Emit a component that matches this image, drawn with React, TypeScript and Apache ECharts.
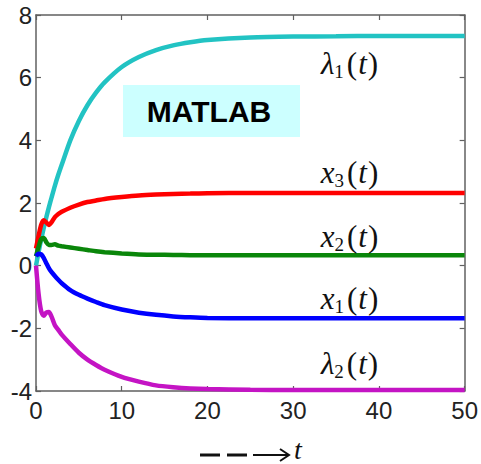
import React, { useEffect, useRef } from "react";
import * as echarts from "echarts";

const T = [0, 0.3, 0.6, 0.9, 1.2, 1.5, 1.8, 2.2, 2.6, 3, 4, 5, 6, 7, 8, 10, 12, 14, 16, 18, 20, 25, 30, 35, 40, 45, 50];
const lambda1 = [0, 0.43, 0.83, 1.2, 1.54, 1.86, 2.16, 2.55, 2.9, 3.22, 4.0, 4.62, 5.12, 5.52, 5.85, 6.34, 6.66, 6.88, 7.03, 7.13, 7.2, 7.28, 7.31, 7.32, 7.33, 7.33, 7.33];
const x3 = [0.55, 0.95, 1.3, 1.45, 1.38, 1.3, 1.38, 1.55, 1.65, 1.72, 1.85, 1.95, 2.03, 2.08, 2.13, 2.19, 2.24, 2.27, 2.29, 2.3, 2.31, 2.32, 2.32, 2.32, 2.32, 2.32, 2.32];
const x2 = [0.3, 0.6, 0.85, 0.88, 0.75, 0.66, 0.66, 0.68, 0.64, 0.62, 0.58, 0.54, 0.5, 0.46, 0.43, 0.39, 0.36, 0.35, 0.34, 0.335, 0.33, 0.33, 0.33, 0.33, 0.33, 0.33, 0.33];
const x1 = [0.3, 0.38, 0.36, 0.25, 0.08, -0.08, -0.2, -0.33, -0.45, -0.56, -0.78, -0.93, -1.05, -1.16, -1.26, -1.4, -1.5, -1.57, -1.62, -1.65, -1.67, -1.68, -1.68, -1.68, -1.68, -1.68, -1.68];
const lambda2 = [0, -0.9, -1.45, -1.6, -1.5, -1.48, -1.62, -1.9, -2.05, -2.2, -2.5, -2.78, -3.0, -3.17, -3.32, -3.55, -3.7, -3.82, -3.88, -3.92, -3.94, -3.96, -3.97, -3.97, -3.97, -3.97, -3.97];

const SERIES = [
  { name: "λ1(t)", data: lambda1, color: "#22c3c3", main: "λ", sub: "1", labelY: 63 },
  { name: "x3(t)", data: x3, color: "#ff0000", main: "x", sub: "3", labelY: 172 },
  { name: "x2(t)", data: x2, color: "#0a860a", main: "x", sub: "2", labelY: 236 },
  { name: "x1(t)", data: x1, color: "#0000ff", main: "x", sub: "1", labelY: 298 },
  { name: "λ2(t)", data: lambda2, color: "#c414c4", main: "λ", sub: "2", labelY: 363 },
];

const X_MIN = 0, X_MAX = 50, X_STEP = 10;
const Y_MIN = -4, Y_MAX = 8, Y_STEP = 2;

export default function App() {
  const ref = useRef<HTMLDivElement>(null);
  useEffect(() => {
    if (!ref.current) return;
    const chart = echarts.init(ref.current, null, { renderer: "svg" });
    const axisLine = { show: true, onZero: false, lineStyle: { color: "#606060", width: 1.5 } };
    const tick = { show: true, inside: true, length: 5, lineStyle: { color: "#606060", width: 1.2 } };
    const lbl = { color: "#222", fontSize: 24, fontFamily: "Liberation Sans, Arial, sans-serif" };
    const serif = "Liberation Serif, Times New Roman, serif";
    const rich = {
      i: { fontFamily: serif, fontStyle: "italic", fontSize: 31, lineHeight: 36, fill: "#111" },
      r: { fontFamily: serif, fontSize: 31, lineHeight: 36, fill: "#111", padding: [0, 1, 0, 1] },
      s: { fontFamily: serif, fontSize: 19, lineHeight: 17, verticalAlign: "bottom", fill: "#111", padding: [0, 2, 0, 0] },
    };
    chart.setOption({
      animation: false,
      backgroundColor: "#ffffff",
      grid: { left: 36, right: 13, top: 15, bottom: 73, containLabel: false },
      xAxis: [
        { type: "value", min: X_MIN, max: X_MAX, interval: X_STEP, position: "bottom", axisLine, axisTick: tick, splitLine: { show: false }, axisLabel: { ...lbl, margin: 7 } },
        { type: "value", min: X_MIN, max: X_MAX, interval: X_STEP, position: "top", axisLine, axisTick: tick, splitLine: { show: false }, axisLabel: { show: false } },
      ],
      yAxis: [
        { type: "value", min: Y_MIN, max: Y_MAX, interval: Y_STEP, position: "left", axisLine, axisTick: tick, splitLine: { show: false }, axisLabel: { ...lbl, margin: 4 } },
        { type: "value", min: Y_MIN, max: Y_MAX, interval: Y_STEP, position: "right", axisLine, axisTick: tick, splitLine: { show: false }, axisLabel: { show: false } },
      ],
      series: SERIES.map((s) => ({
        name: s.name,
        type: "line",
        showSymbol: false,
        smooth: 0.25,
        data: T.map((t, i) => [t, s.data[i]]),
        lineStyle: { color: s.color, width: 4.5 },
        itemStyle: { color: s.color },
        z: 3,
      })),
      graphic: [
        { type: "rect", shape: { x: 123, y: 85, width: 177, height: 52 }, style: { fill: "#ccffff" }, z: 10 },
        { type: "text", x: 209, y: 111, z: 11, style: { text: "MATLAB", fontFamily: "Liberation Sans, Arial, sans-serif", fontWeight: "bold", fontSize: 30, fill: "#000", align: "center", verticalAlign: "middle" } },
        ...SERIES.map((s) => ({
          type: "text",
          x: 350,
          y: s.labelY,
          z: 11,
          style: {
            text: `{i|${s.main}}{s|${s.sub}}{r|(}{i|t}{r|)}`,
            rich,
            align: "center",
            verticalAlign: "middle",
          },
        })),
        { type: "line", shape: { x1: 200, y1: 455, x2: 220, y2: 455 }, style: { stroke: "#111", lineWidth: 3 } },
        { type: "line", shape: { x1: 227, y1: 455, x2: 247, y2: 455 }, style: { stroke: "#111", lineWidth: 3 } },
        { type: "line", shape: { x1: 253, y1: 455, x2: 288, y2: 455 }, style: { stroke: "#111", lineWidth: 2 } },
        { type: "polyline", shape: { points: [[280, 449], [289, 455], [280, 461]] }, style: { stroke: "#111", lineWidth: 2, fill: null } },
        { type: "text", x: 298, y: 463, style: { text: "t", fontFamily: serif, fontStyle: "italic", fontSize: 28, fill: "#111", align: "center", verticalAlign: "bottom" } },
      ],
    });
    return () => chart.dispose();
  }, []);
  return <div ref={ref} style={{ position: "fixed", left: 0, top: 0, width: 481, height: 464 }} />;
}
